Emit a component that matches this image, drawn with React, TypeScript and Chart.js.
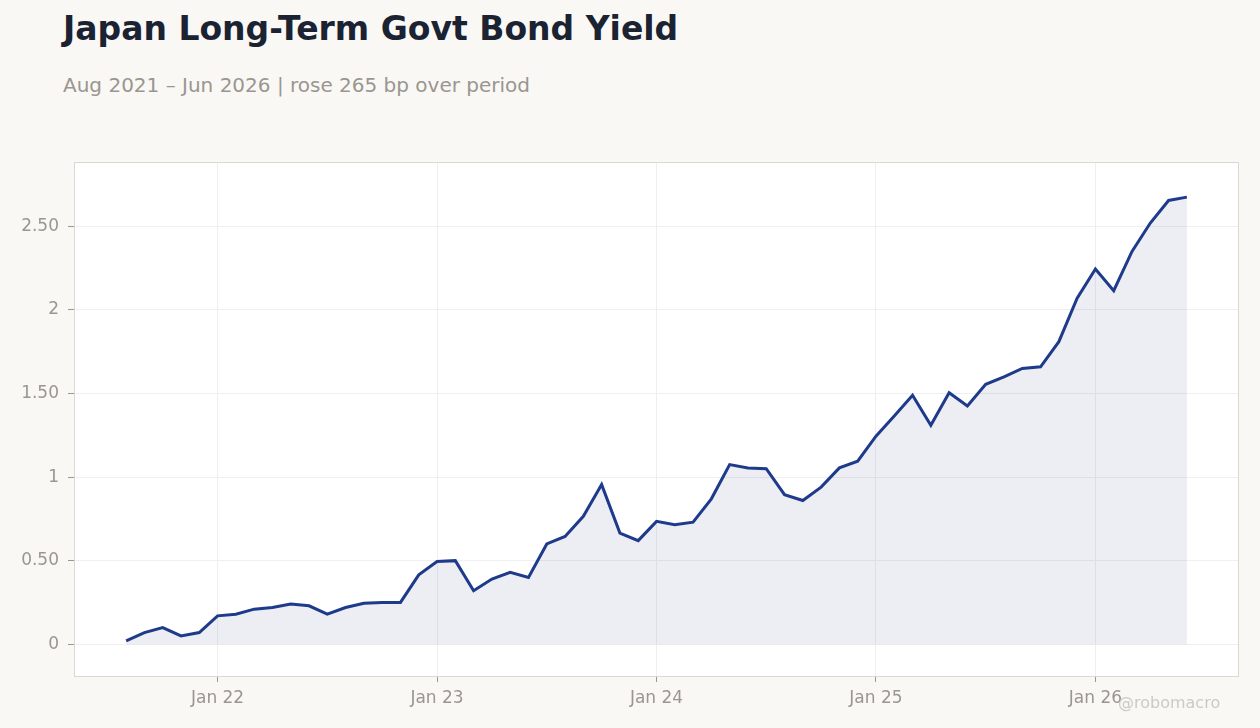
import { useEffect, useRef } from "react"
import { Chart, registerables } from "chart.js"

Chart.register(...registerables)

// Monthly observations, Aug 2021 – Jun 2026
const months = [
  "2021-08", "2021-09", "2021-10", "2021-11", "2021-12",
  "2022-01", "2022-02", "2022-03", "2022-04", "2022-05", "2022-06",
  "2022-07", "2022-08", "2022-09", "2022-10", "2022-11", "2022-12",
  "2023-01", "2023-02", "2023-03", "2023-04", "2023-05", "2023-06",
  "2023-07", "2023-08", "2023-09", "2023-10", "2023-11", "2023-12",
  "2024-01", "2024-02", "2024-03", "2024-04", "2024-05", "2024-06",
  "2024-07", "2024-08", "2024-09", "2024-10", "2024-11", "2024-12",
  "2025-01", "2025-02", "2025-03", "2025-04", "2025-05", "2025-06",
  "2025-07", "2025-08", "2025-09", "2025-10", "2025-11", "2025-12",
  "2026-01", "2026-02", "2026-03", "2026-04", "2026-05", "2026-06",
]

// 10y JGB yield, %
const yields = [
  0.02, 0.07, 0.1, 0.05, 0.07,
  0.17, 0.18, 0.21, 0.22, 0.24, 0.23,
  0.18, 0.22, 0.245, 0.25, 0.25, 0.415,
  0.495, 0.5, 0.32, 0.39, 0.43, 0.4,
  0.6, 0.645, 0.765, 0.955, 0.665, 0.62,
  0.735, 0.715, 0.73, 0.87, 1.075, 1.055,
  1.05, 0.895, 0.86, 0.94, 1.055, 1.095,
  1.245, 1.365, 1.49, 1.31, 1.505, 1.425,
  1.555, 1.6, 1.65, 1.66, 1.81, 2.07,
  2.245, 2.115, 2.35, 2.52, 2.655, 2.675,
]

const xTickMonths = ["2022-01", "2023-01", "2024-01", "2025-01", "2026-01"]
const xTickLabels = ["Jan 22", "Jan 23", "Jan 24", "Jan 25", "Jan 26"]
const yTicks = [0, 0.5, 1, 1.5, 2, 2.5]

const FONT = "'DejaVu Sans', sans-serif"
const TICK_COLOR = "#9a9690"
const GRID_COLOR = "#efefef"

// white plot background + thin frame around the chart area
const plotFrame = {
  id: "plotFrame",
  beforeDraw(chart: Chart) {
    const { ctx, chartArea: a } = chart
    ctx.save()
    ctx.fillStyle = "#ffffff"
    ctx.fillRect(a.left, a.top, a.right - a.left, a.bottom - a.top)
    ctx.restore()
  },
  afterDraw(chart: Chart) {
    const { ctx, chartArea: a } = chart
    ctx.save()
    ctx.strokeStyle = "#ddd8ce"
    ctx.lineWidth = 1
    ctx.strokeRect(a.left + 0.5, a.top + 0.5, a.right - a.left - 1, a.bottom - a.top)
    ctx.restore()
  },
}

export default function App() {
  const chartRef = useRef<HTMLCanvasElement>(null)
  const chartInstance = useRef<Chart | null>(null)

  useEffect(() => {
    document.body.style.margin = "0"
    document.body.style.background = "#f9f8f5"
    if (!chartRef.current) return

    if (chartInstance.current) {
      chartInstance.current.destroy()
    }

    const ctx = chartRef.current.getContext("2d")
    if (ctx) {
      chartInstance.current = new Chart(ctx, {
        type: "line",
        data: {
          datasets: [
            {
              label: "JGB yield",
              data: yields.map((y, i) => ({ x: i, y })),
              borderColor: "#1e3a8a",
              borderWidth: 3,
              backgroundColor: "rgba(25, 40, 110, 0.08)",
              fill: "origin",
              pointRadius: 0,
              tension: 0,
            },
          ],
        },
        options: {
          animation: false,
          responsive: true,
          maintainAspectRatio: false,
          layout: { padding: { top: 162, right: 21, left: 0, bottom: 0 } },
          plugins: {
            legend: { display: false },
            tooltip: { enabled: false },
          },
          scales: {
            x: {
              type: "linear",
              min: -2.85,
              max: months.length - 1 + 2.85,
              afterBuildTicks: (axis) => {
                axis.ticks = xTickMonths.map((m) => ({ value: months.indexOf(m) }))
              },
              afterFit: (axis) => {
                axis.height = 52
              },
              ticks: {
                color: TICK_COLOR,
                font: { family: FONT, size: 17 },
                padding: 6,
                maxRotation: 0,
                callback: (value) => {
                  const idx = xTickMonths.indexOf(months[value as number])
                  return idx >= 0 ? xTickLabels[idx] : ""
                },
              },
              grid: { color: GRID_COLOR, tickColor: TICK_COLOR, tickLength: 6 },
              border: { display: false },
            },
            y: {
              min: -0.19,
              max: 2.885,
              afterBuildTicks: (axis) => {
                axis.ticks = yTicks.map((value) => ({ value }))
              },
              afterFit: (axis) => {
                axis.width = 74
              },
              ticks: {
                color: TICK_COLOR,
                font: { family: FONT, size: 17 },
                padding: 9,
                callback: (value) => {
                  const v = value as number
                  return Number.isInteger(v) ? String(v) : v.toFixed(2)
                },
              },
              grid: { color: GRID_COLOR, tickColor: TICK_COLOR, tickLength: 6 },
              border: { display: false },
            },
          },
        },
        plugins: [plotFrame],
      })
    }

    return () => {
      if (chartInstance.current) {
        chartInstance.current.destroy()
        chartInstance.current = null
      }
    }
  }, [])

  return (
    <div style={{ position: "relative", width: 1260, height: 728, background: "#f9f8f5", fontFamily: FONT }}>
      <div
        style={{
          position: "absolute",
          left: 63,
          top: 9,
          fontSize: 33,
          fontWeight: "bold",
          color: "#1b2333",
          whiteSpace: "nowrap",
        }}
      >
        Japan Long-Term Govt Bond Yield
      </div>
      <div
        style={{
          position: "absolute",
          left: 63,
          top: 73,
          fontSize: 20,
          color: "#9a9690",
          whiteSpace: "nowrap",
        }}
      >
        Aug 2021 – Jun 2026 | rose 265 bp over period
      </div>
      <div style={{ position: "absolute", inset: 0 }}>
        <canvas ref={chartRef} />
      </div>
      <div
        style={{
          position: "absolute",
          left: 1118,
          top: 693,
          fontSize: 16,
          color: "#cdcac5",
          whiteSpace: "nowrap",
        }}
      >
        @robomacro
      </div>
    </div>
  )
}
